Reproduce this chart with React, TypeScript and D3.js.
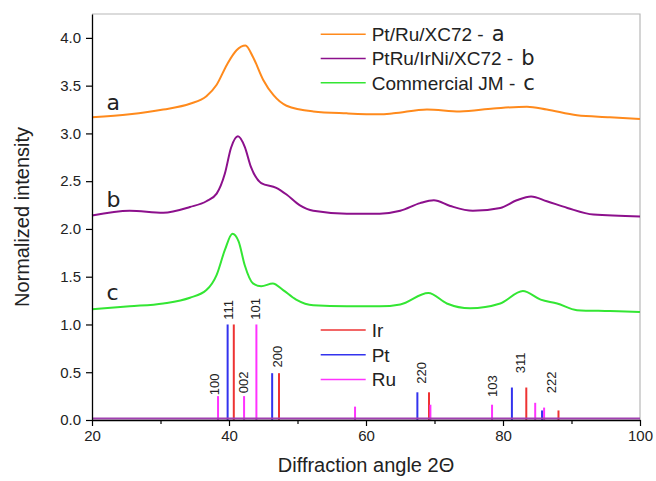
import React, { useEffect, useRef } from 'react';
import * as d3 from 'd3';

// sample patterns: [2theta, normalized intensity]
const curveA = [
  [20, 3.17], [25.5, 3.2], [30.4, 3.25], [34.3, 3.31], [36.7, 3.39], [38.2, 3.51],
  [39.7, 3.72], [41.1, 3.87], [42.4, 3.92], [43.5, 3.8], [45.0, 3.56], [46.5, 3.4],
  [48.4, 3.29], [52.3, 3.23], [57.2, 3.21], [62.0, 3.2], [64.0, 3.21], [68.9, 3.25],
  [73.7, 3.23], [78.6, 3.26], [83.5, 3.28], [86.4, 3.25], [90.8, 3.19], [95.6, 3.17], [100, 3.15],
];
const curveB = [
  [20, 2.14], [25.5, 2.19], [30.4, 2.17], [34.3, 2.23], [36.7, 2.29], [38.2, 2.37],
  [39.4, 2.58], [40.3, 2.85], [41.3, 2.97], [42.3, 2.86], [43.2, 2.65], [44.7, 2.48],
  [46.9, 2.43], [48.4, 2.36], [50.3, 2.25], [52.3, 2.19], [57.2, 2.16], [62.0, 2.16],
  [65.0, 2.19], [67.9, 2.27], [69.9, 2.3], [72.3, 2.24], [75.6, 2.19], [79.6, 2.22],
  [82.0, 2.3], [84.1, 2.34], [86.4, 2.29], [89.4, 2.22], [93.2, 2.15], [100, 2.13],
];
const curveC = [
  [20, 1.16], [25.5, 1.19], [30.4, 1.22], [34.3, 1.28], [36.7, 1.36], [38.2, 1.52],
  [39.4, 1.78], [40.5, 1.95], [41.4, 1.87], [42.3, 1.62], [43.5, 1.43], [44.7, 1.4],
  [46.4, 1.43], [47.9, 1.36], [49.8, 1.26], [52.3, 1.2], [57.2, 1.19], [62.0, 1.19],
  [65.0, 1.21], [69.1, 1.33], [71.8, 1.22], [75.2, 1.17], [79.6, 1.22], [82.9, 1.35],
  [85.5, 1.26], [87.9, 1.22], [90.8, 1.15], [95.6, 1.14], [100, 1.13],
];

// reference patterns (stick lines)
const irPeaks = [[40.7, 1.0], [47.3, 0.49], [69.2, 0.29], [83.4, 0.34], [88.1, 0.1]];
const ptPeaks = [[39.8, 1.0], [46.3, 0.49], [67.5, 0.29], [81.3, 0.34], [85.7, 0.1]];
const ruPeaks = [[38.4, 0.25], [42.2, 0.25], [44.0, 1.0], [58.4, 0.14], [69.4, 0.16], [78.4, 0.16], [84.7, 0.18], [86.0, 0.13]];

// hkl labels: text, angle, intensity where the label starts
const hklLabels = [
  ['100', 37.85, 0.26], ['111', 39.9, 1.05], ['002', 42.1, 0.28], ['101', 43.9, 1.05],
  ['200', 47.1, 0.55], ['220', 68.1, 0.38], ['103', 78.5, 0.24], ['311', 82.5, 0.49], ['222', 87.1, 0.28],
];

const curveNames = ['Pt/Ru/XC72 -', 'PtRu/IrNi/XC72 -', 'Commercial JM -'];
const curveLetters = ['a', 'b', 'c'];
const curveLetterPos = [[22.1, 3.25], [22.1, 2.23], [22.1, 1.26]];
const refNames = ['Ir', 'Pt', 'Ru'];

const majorTicks = [20, 40, 60, 80, 100];
const minorTicks = [30, 50, 70, 90];
const yTicks = [0, 0.5, 1, 1.5, 2, 2.5, 3, 3.5, 4];

const curveColors = ['#ff8a1c', '#8c108c', '#33e633'];
const refColors = ['#ee3333', '#3333ee', '#ff33ff'];

export default function App() {
  const ref = useRef(null);

  useEffect(() => {
    const svg = d3.select(ref.current);
    svg.selectAll('*').remove();
    const width = 656, height = 481;
    const margin = { top: 14, left: 92, bottom: 61, right: 16 };
    const iw = width - margin.left - margin.right;
    const ih = height - margin.top - margin.bottom;
    svg.attr('width', width).attr('height', height);
    const g = svg.append('g').attr('transform', `translate(${margin.left},${margin.top})`);

    const x = d3.scaleLinear().domain([20, 100]).range([0, iw]);
    const y = d3.scaleLinear().domain([0, 4.25]).range([ih, 0]);
    const font = 'Liberation Sans, Arial, sans-serif';

    // frame
    g.append('path')
      .attr('d', `M0,0H${iw}V${ih}`)
      .attr('fill', 'none').attr('stroke', '#b8b8b8').attr('stroke-width', 1.2);

    const line = d3.line().x((d) => x(d[0])).y((d) => y(d[1])).curve(d3.curveMonotoneX);
    [curveA, curveB, curveC].forEach((data, i) => {
      g.append('path').datum(data)
        .attr('d', line)
        .attr('fill', 'none')
        .attr('stroke', curveColors[i])
        .attr('stroke-width', 2);
    });

    // sticks
    [irPeaks, ptPeaks, ruPeaks].forEach((peaks, i) => {
      g.selectAll(null).data(peaks).enter().append('line')
        .attr('x1', (d) => x(d[0])).attr('x2', (d) => x(d[0]))
        .attr('y1', y(0)).attr('y2', (d) => y(d[1]))
        .attr('stroke', refColors[i]).attr('stroke-width', 2);
    });
    g.append('line')
      .attr('x1', x(20)).attr('x2', x(100)).attr('y1', y(0) - 1.5).attr('y2', y(0) - 1.5)
      .attr('stroke', '#a040b0').attr('stroke-width', 2);

    g.selectAll('.hkl').data(hklLabels).enter().append('text')
      .attr('class', 'hkl')
      .attr('transform', (d) => `translate(${x(d[1])},${y(d[2])}) rotate(-90)`)
      .attr('dominant-baseline', 'central')
      .style('font-family', font).style('font-size', '13px').attr('fill', '#222')
      .text((d) => d[0]);

    // curve letters
    g.selectAll('.clab').data(curveLetters).enter().append('text')
      .attr('x', (d, i) => x(curveLetterPos[i][0]))
      .attr('y', (d, i) => y(curveLetterPos[i][1]))
      .style('font-family', 'DejaVu Sans, sans-serif').style('font-size', '22px').attr('fill', '#222')
      .text((d) => d);

    // legends
    const leg = g.append('g').attr('transform', `translate(${320.7 - margin.left},0)`);
    curveNames.forEach((name, i) => {
      const ly = 34.3 - margin.top + i * 24.2;
      leg.append('line').attr('x1', 0).attr('x2', 45).attr('y1', ly).attr('y2', ly)
        .attr('stroke', curveColors[i]).attr('stroke-width', 1.5);
      const t = leg.append('text').attr('x', 51).attr('y', ly + 6.8)
        .style('font-family', font).style('font-size', '19px').attr('fill', '#222')
        .text(name);
      t.append('tspan').attr('dx', 8)
        .style('font-family', 'DejaVu Sans, sans-serif').style('font-size', '21px')
        .text(curveLetters[i]);
    });
    refNames.forEach((name, i) => {
      const ly = 330 - margin.top + i * 24.7;
      leg.append('line').attr('x1', 0).attr('x2', 45).attr('y1', ly).attr('y2', ly)
        .attr('stroke', refColors[i]).attr('stroke-width', 1.5);
      leg.append('text').attr('x', 51).attr('y', ly + 6.8)
        .style('font-family', font).style('font-size', '19px').attr('fill', '#222')
        .text(name);
    });

    // axes
    const xAxis = g.append('g').attr('transform', `translate(0,${ih})`)
      .call(d3.axisBottom(x).tickValues(majorTicks).tickSize(6).tickSizeOuter(0).tickPadding(4));
    g.append('g').attr('transform', `translate(0,${ih})`)
      .call(d3.axisBottom(x).tickValues(minorTicks).tickSize(4).tickSizeOuter(0).tickFormat(() => ''))
      .select('.domain').remove();
    const yAxis = g.append('g')
      .call(d3.axisLeft(y).tickValues(yTicks).tickFormat(d3.format('.1f')).tickSize(6).tickSizeOuter(0).tickPadding(5));
    [xAxis, yAxis].forEach((a) => {
      a.selectAll('text').style('font-family', font).style('font-size', '15px').attr('fill', '#222');
      a.select('.domain').attr('stroke-width', 1.3);
    });
    g.selectAll('.tick line').attr('stroke-width', 1.2);

    g.append('text')
      .attr('x', iw / 2).attr('y', ih + 52)
      .attr('text-anchor', 'middle')
      .style('font-family', font).style('font-size', '20px').attr('fill', '#222')
      .text('Diffraction angle 2\u0398');
    g.append('text')
      .attr('transform', `translate(${-63},${ih / 2}) rotate(-90)`)
      .attr('text-anchor', 'middle')
      .style('font-family', font).style('font-size', '20px').attr('fill', '#222')
      .text('Normalized intensity');
  });

  return (
    <div id='chartArea' style={{ position: 'absolute', left: 0, top: 0 }}>
      <svg ref={ref} style={{ display: 'block' }}></svg>
    </div>
  );
}
